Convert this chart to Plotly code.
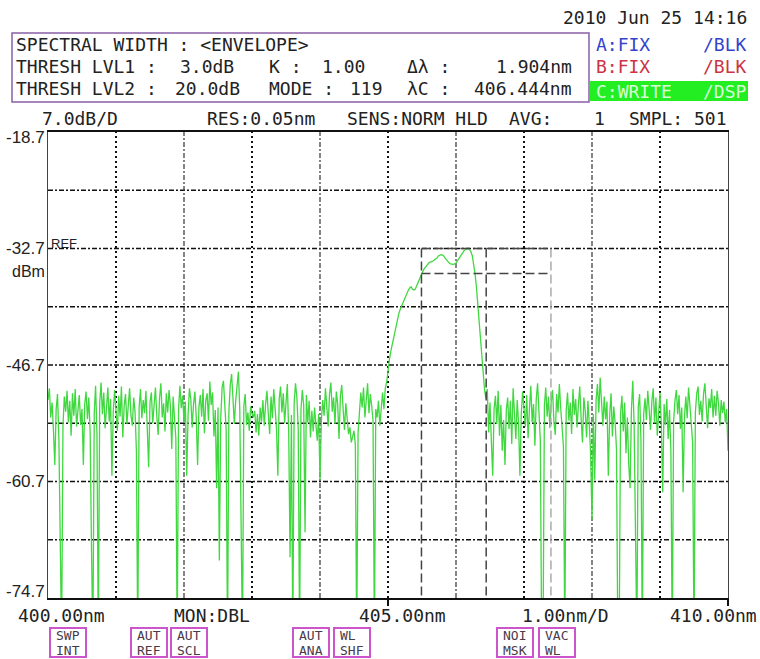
import numpy as np
import plotly.graph_objects as go

# ---------------- data ----------------
wl_start, wl_stop, n_samples = 400.0, 410.0, 501
wavelength_nm = np.linspace(wl_start, wl_stop, n_samples)

noise_left = [
    -50.9, -49.5, -53.0, -51.2, -54.5, -58.7, -52.0, -50.2, -55.6, -71.0,
    -80.0, -54.0, -50.5, -52.3, -49.8, -53.6, -51.0, -55.2, -50.1, -52.8,
    -49.6, -54.1, -51.5, -50.3, -53.9, -52.0, -58.7, -51.4, -49.9, -53.2,
    -50.6, -54.8, -68.9, -80.0, -52.5, -49.2, -55.0, -80.0, -51.3, -48.8,
    -52.6, -50.0, -54.3, -51.1, -49.4, -53.5, -50.8, -60.0, -52.2, -49.7,
    -51.9, -54.6, -50.4, -52.9, -49.3, -55.4, -51.6, -50.2, -53.8, -51.0,
    -49.5, -52.7, -54.0, -50.6, -52.3, -57.0, -80.0, -51.8, -49.6, -53.1,
    -50.9, -52.5, -49.8, -54.4, -59.0, -51.2, -50.0, -53.7, -51.5, -49.4,
    -52.8, -55.1, -50.7, -48.9, -53.0, -51.3, -54.7, -50.1, -52.4, -49.7,
    -51.6, -56.8, -50.5, -53.3, -55.5, -80.0, -52.0, -49.2, -51.9, -50.4,
    -53.6, -51.1, -60.0, -52.7, -49.5, -50.8, -54.2, -51.4, -49.9, -53.0,
    -58.7, -51.7, -50.3, -52.9, -49.6, -54.9, -51.0, -50.1, -53.4, -48.7,
    -51.5, -50.0, -55.3, -52.1, -61.5, -51.8, -70.2, -53.2, -49.4, -48.6,
    -51.2, -54.5, -80.0, -52.3, -49.1, -47.8, -50.7, -53.8, -51.0, -49.5,
    -47.5, -52.0, -68.0, -80.0, -51.6, -50.2, -53.9, -52.4, -54.6, -51.7,
    -52.5, -53.0, -52.2, -54.8, -52.6, -55.2, -51.8, -53.5, -50.9, -54.0,
    -51.4, -49.8, -52.6, -55.0, -50.5, -53.1, -49.6, -51.9, -54.3, -60.0,
    -50.8, -49.3, -52.4, -50.1, -53.7, -51.2, -49.0, -54.9, -69.8, -52.7,
    -80.0, -51.3, -48.9, -50.6, -54.4, -80.0, -52.1, -49.7, -51.5, -66.8,
    -50.3, -53.6, -51.0, -55.4, -52.2, -54.7, -51.8, -53.9, -55.8, -52.6,
    -60.5, -53.4, -50.9, -52.8, -49.5, -51.7, -54.1, -50.2, -48.8, -52.3,
    -50.6, -53.8, -49.9, -51.4, -55.6, -50.4, -49.1, -52.0, -54.5, -51.3,
    -53.2, -55.0, -54.2, -56.0, -55.3, -54.6, -56.3, -80.0, -54.8, -52.1,
    -50.0, -51.8, -49.4, -53.0, -50.7, -48.9, -52.5, -50.2, -51.6, -53.4,
    -80.0,
]

signal_band = [
    -52.0, -53.0, -51.0, -54.0, -51.5, -50.0, -52.0, -49.5, -48.8,
    -47.1, -46.1, -45.1, -44.3, -43.5, -42.6, -41.9, -41.1, -40.5, -40.0,
    -39.6, -39.3, -38.8, -38.4, -37.9, -37.7, -37.45, -37.3, -37.6, -37.7,
    -37.6, -37.2, -36.85, -36.4, -36.0, -35.65, -35.3, -35.05, -34.8, -34.55,
    -34.45, -34.3, -34.3, -34.2, -34.1, -33.95, -33.85, -33.6, -33.5, -33.45,
    -33.5, -33.6, -33.85, -34.1, -34.3, -34.45, -34.55, -34.6, -34.6, -34.55,
    -34.45, -34.2, -33.95, -33.6, -33.35, -33.1, -32.95, -32.8, -32.7, -32.7,
    -32.85, -33.1, -33.6, -34.55, -35.75, -37.3, -39.5, -41.9, -43.9, -45.9,
    -47.9, -49.7, -50.7,
]

noise_right = [
    -49.6, -54.8, -51.2, -55.9, -60.0, -52.0, -50.4,
    -53.8, -49.8, -55.2, -51.5, -57.0, -53.3, -58.7, -52.1, -50.6, -54.4,
    -51.0, -56.2, -49.5, -52.8, -55.6, -50.9, -53.7, -60.0, -52.5, -49.9,
    -51.7, -54.1, -50.3, -55.5, -52.0, -49.2, -53.6, -51.4, -56.4, -50.8,
    -48.9, -53.0, -55.8, -80.0, -80.0, -51.6, -49.4, -52.9, -50.5, -54.3,
    -51.1, -49.7, -53.5, -55.1, -50.2, -52.4, -49.0, -51.9, -54.6, -56.5,
    -80.0, -52.3, -50.0, -53.4, -51.2, -55.0, -49.6, -52.7, -50.8, -54.2,
    -51.5, -49.3, -53.1, -56.0, -50.6, -52.2, -55.4, -51.0, -53.8, -57.5,
    -65.3, -52.6, -60.5, -50.9, -49.0, -52.4, -48.2, -51.3, -54.0, -50.5,
    -53.2, -51.1, -60.0, -52.8, -50.1, -55.3, -51.7, -53.6, -56.8, -80.0,
    -80.0, -52.5, -50.4, -54.7, -51.2, -57.3, -53.0, -58.6, -61.5, -52.0,
    -48.6, -54.1, -70.7, -80.0, -51.8, -50.2, -55.7, -80.0, -52.6, -50.7,
    -53.3, -49.8, -52.0, -54.5, -51.1, -49.5, -53.7, -50.6, -55.2, -52.3,
    -50.0, -54.0, -62.0, -51.4, -53.9, -50.8, -55.6, -52.1, -57.0, -80.0,
    -53.5, -51.0, -49.7, -52.6, -50.3, -54.4, -51.8, -62.0, -52.9, -50.5,
    -53.1, -49.4, -51.6, -54.8, -56.0, -80.0, -52.4, -50.1, -49.3, -52.7,
    -51.0, -53.5, -50.2, -48.9, -52.2, -54.3, -50.7, -51.9, -49.6, -53.0,
    -50.4, -52.8, -49.8, -51.3, -54.0, -50.9, -52.5, -51.1, -53.6, -52.0,
    -57.0,
]

power_dbm = noise_left + signal_band + noise_right
assert len(power_dbm) == n_samples, len(power_dbm)

# axis / scale
y_top, y_bottom, db_per_div = -18.7, -74.7, 7.0
y_label_vals = [-18.7, -32.7, -46.7, -60.7, -74.7]
y_grid_vals = [-25.7, -32.7, -39.7, -46.7, -53.7, -60.7, -67.7]
x_grid_vals = [401, 402, 403, 404, 405, 406, 407, 408, 409]

# analysis results
peak_level = -32.7
thresh_lvl1 = 3.0
delta_lambda = 1.904
lambda_c = 406.444

# ---------------- figure ----------------
W, H = 760, 659
L, R, T, B = 48, 728, 132, 598


def xp(px):
    return (px - L) / (R - L)


def yp(py):
    return (B - py) / (B - T)


fig = go.Figure()
fig.add_trace(go.Scatter(
    x=wavelength_nm, y=power_dbm, mode="lines",
    line=dict(color="#3fd83f", width=1.3), hoverinfo="skip"))

shapes = []
for v in y_grid_vals:
    shapes.append(dict(type="line", xref="x", yref="y", x0=wl_start, x1=wl_stop,
                       y0=v, y1=v, layer="below",
                       line=dict(color="#111", width=1.3, dash="5px,2px,2px,2px")))
for v in x_grid_vals:
    if v % 2 == 1:
        ln = dict(color="#111", width=2, dash="2px,3px")
    else:
        ln = dict(color="#333", width=1.2, dash="5px,2px,2px,2px")
    shapes.append(dict(type="line", xref="x", yref="y", x0=v, x1=v,
                       y0=y_bottom, y1=y_top, layer="below", line=ln))

# envelope markers
xl = lambda_c - delta_lambda / 2
xr = lambda_c + delta_lambda / 2
for (x0, x1, y0, y1, c) in [
    (xl, xr, peak_level, peak_level, "#444"),
    (xl, xr, peak_level - thresh_lvl1, peak_level - thresh_lvl1, "#444"),
    (xl, xl, peak_level, y_bottom, "#444"),
    (lambda_c, lambda_c, peak_level, y_bottom, "#444"),
    (xr, xr, peak_level, y_bottom, "#aaa"),
]:
    shapes.append(dict(type="line", xref="x", yref="y", x0=x0, x1=x1, y0=y0, y1=y1,
                       line=dict(color=c, width=1.5, dash="9px,4px")))

# header box, green bar, buttons
shapes.append(dict(type="rect", xref="paper", yref="paper", x0=xp(12), x1=xp(589),
                   y0=yp(102), y1=yp(33), line=dict(color="#8a5fa8", width=1.5)))
shapes.append(dict(type="rect", xref="paper", yref="paper", x0=xp(590), x1=xp(748),
                   y0=yp(101), y1=yp(81), fillcolor="#22ee22", line=dict(width=0)))

buttons = [("SWP", "INT", 50), ("AUT", "REF", 131), ("AUT", "SCL", 171),
           ("AUT", "ANA", 293), ("WL", "SHF", 334), ("NOI", "MSK", 497),
           ("VAC", "WL", 539)]
for (_, _, bx) in buttons:
    shapes.append(dict(type="rect", xref="paper", yref="paper", x0=xp(bx), x1=xp(bx + 36),
                       y0=yp(657), y1=yp(628), line=dict(color="#cc55cc", width=2)))

MONO = "DejaVu Sans Mono"
ann = []


def txt(s, px, py, size=18, color="#222", anchor="left", font=MONO):
    ann.append(dict(text=s, xref="paper", yref="paper", x=xp(px), y=yp(py),
                    xanchor=anchor, yanchor="middle", showarrow=False,
                    font=dict(family=font, size=size, color=color)))


txt("2010 Jun 25 14:16", 749, 18, anchor="right")
txt("SPECTRAL WIDTH : &lt;ENVELOPE&gt;", 14, 45)
txt("THRESH LVL1 :", 14, 67)
txt("%.1fdB" % thresh_lvl1, 178, 67)
txt("K :", 267, 67)
txt("1.00", 320, 67)
txt("Δλ :", 405, 67)
txt("%.3fnm" % delta_lambda, 574, 67, anchor="right")
txt("THRESH LVL2 :", 14, 88)
txt("20.0dB", 173, 88)
txt("MODE :", 267, 88)
txt("119", 348, 88)
txt("λC :", 405, 88)
txt("%.3fnm" % lambda_c, 574, 88, anchor="right")
txt("A:FIX", 594, 45, color="#3344cc")
txt("/BLK", 749, 45, color="#3344cc", anchor="right")
txt("B:FIX", 594, 67, color="#cc3344")
txt("/BLK", 749, 67, color="#cc3344", anchor="right")
txt("C:WRITE", 594, 91, color="#d8ffd8")
txt("/DSP", 749, 91, color="#d8ffd8", anchor="right")

txt("%.1fdB/D" % db_per_div, 40, 118)
txt("RES:0.05nm", 205, 118)
txt("SENS:NORM HLD", 345, 118)
txt("AVG:", 507, 118)
txt("1", 592, 118)
txt("SMPL: %d" % n_samples, 627, 118)

SANS = "Liberation Sans"
for v in y_label_vals:
    py = T + (y_top - v) / (y_top - y_bottom) * (B - T)
    if v == y_top:
        py += 5
    if v == y_bottom:
        py -= 7
    txt("%.1f" % v, 47, py, size=17, anchor="right", font=SANS)
txt("REF", 49, 243, size=13, font=SANS)
txt("dBm", 47, 271, size=16, anchor="right", font=SANS)

txt("%.2fnm" % wl_start, 16, 615)
txt("MON:DBL", 172, 615)
txt("%.2fnm" % ((wl_start + wl_stop) / 2), 357, 615)
txt("1.00nm/D", 520, 615)
txt("%.2fnm" % wl_stop, 759, 615, anchor="right")

for (a, b, bx) in buttons:
    txt(a, bx + 4, 635, size=13, color="#4a3a4a")
    txt(b, bx + 4, 650, size=13, color="#4a3a4a")

fig.update_layout(
    width=W, height=H,
    margin=dict(l=L, r=W - R, t=T, b=H - B),
    paper_bgcolor="white", plot_bgcolor="white",
    showlegend=False,
    shapes=shapes, annotations=ann,
    xaxis=dict(range=[wl_start, wl_stop], showgrid=False, zeroline=False,
               showticklabels=False, tickvals=[405, 410], ticks="outside",
               ticklen=6, tickwidth=1.5, tickcolor="#111",
               showline=True, linecolor="#111", linewidth=2, mirror=True,
               fixedrange=True),
    yaxis=dict(range=[y_bottom, y_top], showgrid=False, zeroline=False,
               showticklabels=False, ticks="",
               showline=True, linecolor="#444", linewidth=1.2, mirror=True,
               fixedrange=True),
)

fig.write_html("out.html", config={"displayModeBar": False},
               post_script="document.body.style.margin='0px';document.body.style.overflow='hidden';")
